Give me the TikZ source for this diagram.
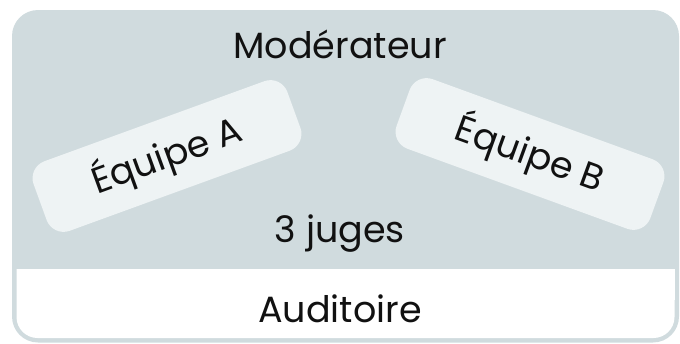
\documentclass[tikz,border=0pt]{standalone}
\usepackage{fontspec}
\setmainfont{Poppins}
\definecolor{panel}{HTML}{D0DBDE}
\definecolor{card}{HTML}{EEF3F4}
\definecolor{ink}{HTML}{111111}
\begin{document}
\begin{tikzpicture}[x=1pt,y=-1pt,
  lbl/.style={text=ink, font=\fontsize{36.5}{42}\selectfont, inner sep=0pt},
  cardbox/.style={fill=card, rounded corners=18pt, minimum width=270pt, minimum height=74pt, text=ink, font=\fontsize{36.5}{42}\selectfont, inner sep=0pt}]
\useasboundingbox (0,0) rectangle (680,343);
\fill[panel, rounded corners=26pt] (12,10) rectangle (679,342.5);
\fill[white, rounded corners=21pt] (16.5,269) -- (16.5,338) -- (674.5,338) -- (674.5,269) [sharp corners] -- cycle;
\fill[white] (16.5,269) rectangle (674.5,300);
\node[cardbox, rotate=20] (teamA) at (167,156) {Équipe A};
\node[cardbox, rotate=-20] (teamB) at (530,154) {Équipe B};
\node[lbl, anchor=base] (mod) at (340,58) {Modérateur};
\node[lbl, anchor=base] (judges) at (340,242) {3 juges};
\node[lbl, anchor=base] (aud) at (340,322) {Auditoire};
\end{tikzpicture}
\end{document}
